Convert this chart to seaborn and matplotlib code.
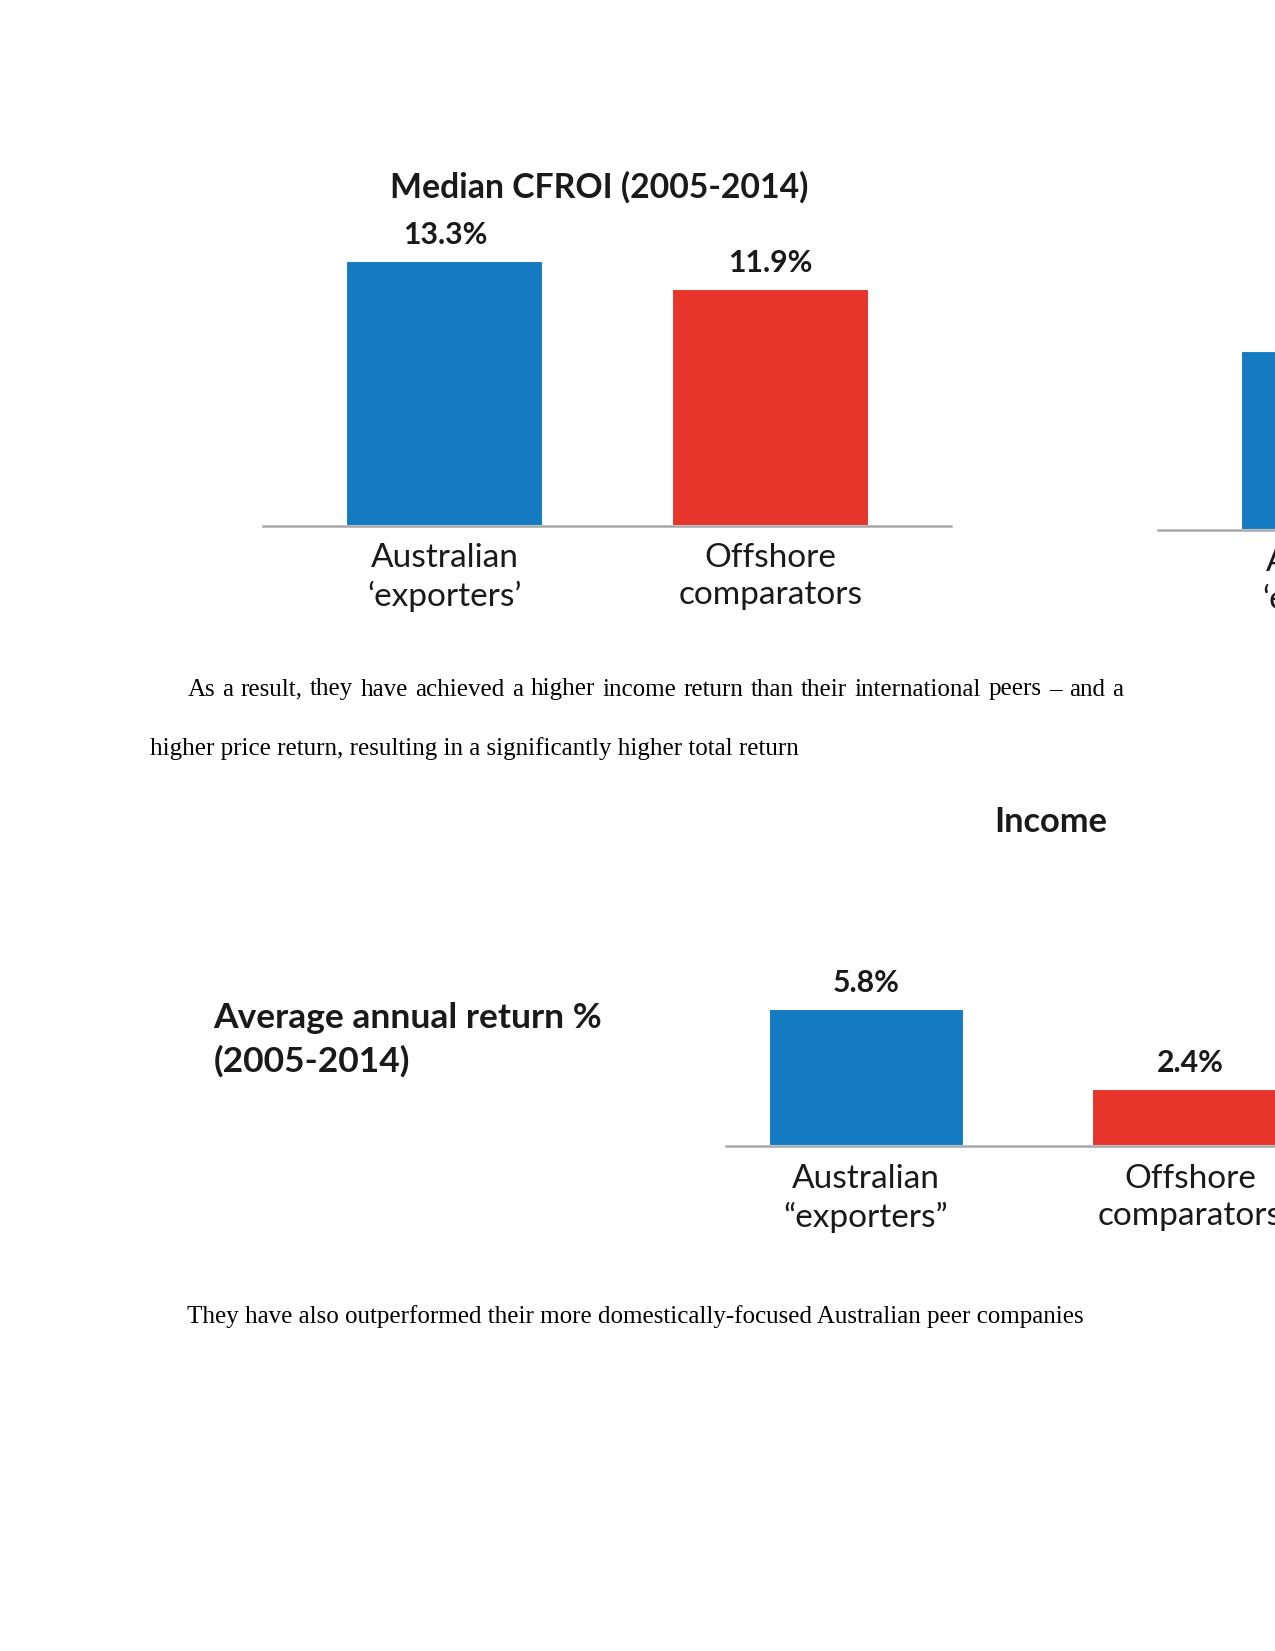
import matplotlib
matplotlib.use("Agg")
import matplotlib.pyplot as plt
import pandas as pd
import seaborn as sns

W, H = 1275, 1651
DPI = 150

# chart data
cfroi_cats = ["Australian\n\u2018exporters\u2019", "Offshore\ncomparators"]
cfroi_vals = [13.3, 11.9]
clipped_cats = ["Australian\n\u2018exporters\u2019"]
clipped_vals = [9.0]
income_cats = ["Australian\n\u201cexporters\u201d", "Offshore\ncomparators"]
income_vals = [5.8, 2.4]
bar_colors = ["#147BC3", "#E7352B"]

para1 = "As a result, they have achieved a higher income return than their international peers \u2013 and a"
para2 = "higher price return, resulting in a significantly higher total return"
para3 = "They have also outperformed their more domestically-focused Australian peer companies"

sns.set_theme(style="white")
plt.rcParams['font.family'] = ['Lato', 'DejaVu Sans']

fig = plt.figure(figsize=(W / DPI, H / DPI), dpi=DPI)
fig.patch.set_facecolor("white")


def px_axes(left, bottom, width, height):
    # pixel coords measured from the top-left of the page
    return fig.add_axes([left / W, 1 - bottom / H, width / W, height / H])


def draw_bars(ax, cats, vals, palette, width, xlim, ylim, label_pad):
    df = pd.DataFrame({"cat": cats, "val": vals})
    sns.barplot(data=df, x="cat", y="val", hue="cat", palette=palette,
                width=width, saturation=1, legend=False, ax=ax)
    ax.set_xlim(*xlim)
    ax.set_ylim(*ylim)
    ax.set_xlabel("")
    ax.set_ylabel("")
    ax.set_yticks([])
    for s in ["top", "left", "right"]:
        ax.spines[s].set_visible(False)
    ax.spines["bottom"].set_color("#a8a8a8")
    ax.spines["bottom"].set_linewidth(1.2)
    ax.tick_params(axis="x", length=0, pad=label_pad, labelsize=16, labelcolor="#1a1a1a")
    for lbl in ax.get_xticklabels():
        lbl.set_linespacing(1.3)
    for c in ax.containers:
        ax.bar_label(c, fmt="%.1f%%", padding=6, fontsize=14.5, fontweight="bold", color="#1a1a1a")
    ax.patch.set_alpha(0)


# Median CFROI chart
ax1 = px_axes(263, 526.4, 687.7, 14 * 19.92)
draw_bars(ax1, cfroi_cats, cfroi_vals, bar_colors, 0.605, (-0.559, 1.555), (0, 14), 8)
fig.text(599 / W, 1 - 187.4 / H, "Median CFROI (2005-2014)", ha="center", va="center",
         fontsize=16.2, fontweight="bold", color="#1a1a1a")

# clipped chart at the right edge
ax3 = px_axes(1158, 530, 400, 14 * 19.92)
draw_bars(ax3, clipped_cats, clipped_vals, bar_colors[:1], 0.605, (-0.558, 0.671), (0, 14), 8)

# Income chart
ax2 = px_axes(726.4, 1145.5, 658, 6.5 * 23.45)
draw_bars(ax2, income_cats, income_vals, bar_colors, 0.602, (-0.431, 1.6), (0, 6.5), 9)
fig.text(1051 / W, 1 - 822 / H, "Income", ha="center", va="center",
         fontsize=16.5, fontweight="bold", color="#1a1a1a")
fig.text(213.7 / W, 1 - 1018 / H, "Average annual return %", ha="left", va="center",
         fontsize=17, fontweight="bold", color="#1a1a1a")
fig.text(213.7 / W, 1 - 1061 / H, "(2005-2014)", ha="left", va="center",
         fontsize=17, fontweight="bold", color="#1a1a1a")

# body text
serif = ["Liberation Serif", "DejaVu Serif"]
renderer = fig.canvas.get_renderer()


def justified(line, x0, x1, y, size=12):
    words = line.split()
    texts = [fig.text(0, 1 - y / H, w, fontsize=size, family=serif, va="center", color="black")
             for w in words]
    widths = [t.get_window_extent(renderer).width for t in texts]
    gap = (x1 - x0 - sum(widths)) / (len(words) - 1)
    x = x0
    for t, w in zip(texts, widths):
        t.set_x(x / W)
        x += w + gap


justified(para1, 187.4, 1123, 689.5)
fig.text(150.5 / W, 1 - 748.4 / H, para2, fontsize=12, family=serif, va="center", color="black")
fig.text(187.4 / W, 1 - 1317 / H, para3, fontsize=12, family=serif, va="center", color="black")

fig.savefig("out.png", dpi=DPI, facecolor="white")
